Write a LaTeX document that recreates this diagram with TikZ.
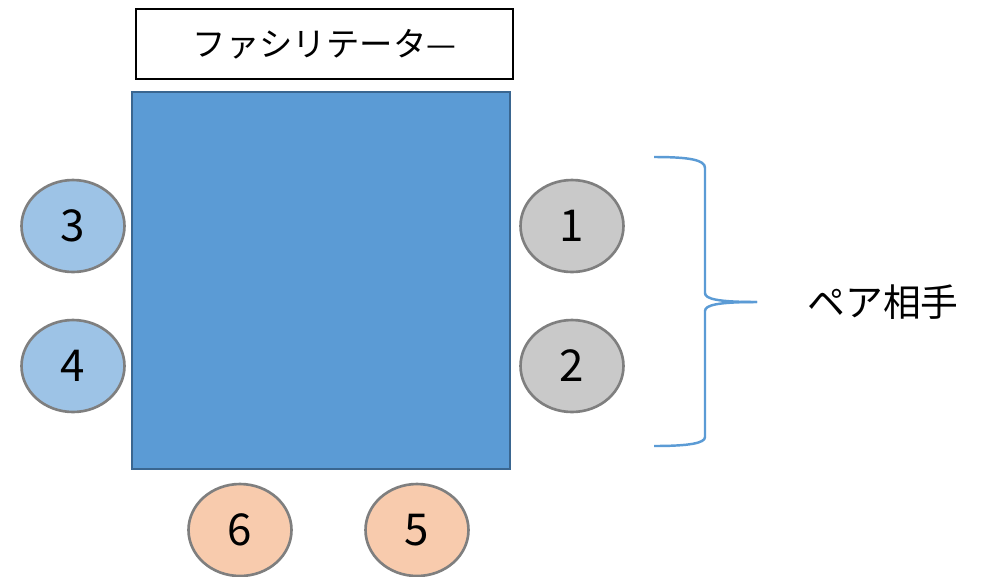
\documentclass[tikz,border=0pt]{standalone}
\usepackage{fontspec}
\setmainfont{Noto Sans CJK JP}
\usetikzlibrary{shapes.geometric}
\definecolor{tableblue}{HTML}{5B9BD5}
\definecolor{tableedge}{HTML}{3A6690}
\definecolor{seatblue}{HTML}{9DC3E6}
\definecolor{seatgrey}{HTML}{C9C9C9}
\definecolor{seatpeach}{HTML}{F8CBAD}
\definecolor{seatedge}{HTML}{7F7F7F}

\begin{document}
\begin{tikzpicture}[x=0.02cm, y=-0.02cm,
    seat/.style={ellipse, draw=seatedge, line width=1.5pt,
      minimum width=2.06cm, minimum height=1.84cm, inner sep=0pt,
      font=\fontsize{25}{25}\selectfont}]

    \useasboundingbox (0, 0) rectangle (984, 576);

    \node (facilitator) [draw, line width=1pt, minimum width=7.54cm,
    minimum height=1.4cm, inner sep=0pt, font=\fontsize{19}{19}\selectfont]
    at (324.5, 44) {ファシリテータ—};

    \node (table) [fill=tableblue, draw=tableedge, line width=1.6pt,
    minimum width=7.56cm, minimum height=7.54cm, inner sep=0pt]
    at (321, 280.5) {};

    % seats on the right
    \node (seat1) [seat, fill=seatgrey] at (572, 226) {1};
    \node (seat2) [seat, fill=seatgrey] at (572, 366) {2};

    % seats on the left
    \node (seat3) [seat, fill=seatblue] at (73, 226) {3};
    \node (seat4) [seat, fill=seatblue] at (73, 366) {4};

    % seats at the bottom
    \node (seat5) [seat, fill=seatpeach] at (417, 530) {5};
    \node (seat6) [seat, fill=seatpeach] at (240, 530) {6};

    \coordinate (brace top) at (654, 157);
    \coordinate (brace tip) at (757, 302);
    \coordinate (brace bottom) at (654, 446);

    \draw [tableblue, line width=1.4pt] (brace top) .. controls (690, 157)
    and (705, 160) .. (705, 168) -- (705, 293) .. controls (705, 299) and
    (718, 302) .. (brace tip);

    \draw [tableblue, line width=1.4pt] (brace tip) .. controls (718, 302)
    and (705, 305) .. (705, 311) -- (705, 437) .. controls (705, 443) and
    (690, 446) .. (brace bottom);

    \node (pair) [font=\fontsize{21.5}{21.5}\selectfont] at (883, 302)
    {ペア相手};

  \end{tikzpicture}
\end{document}
